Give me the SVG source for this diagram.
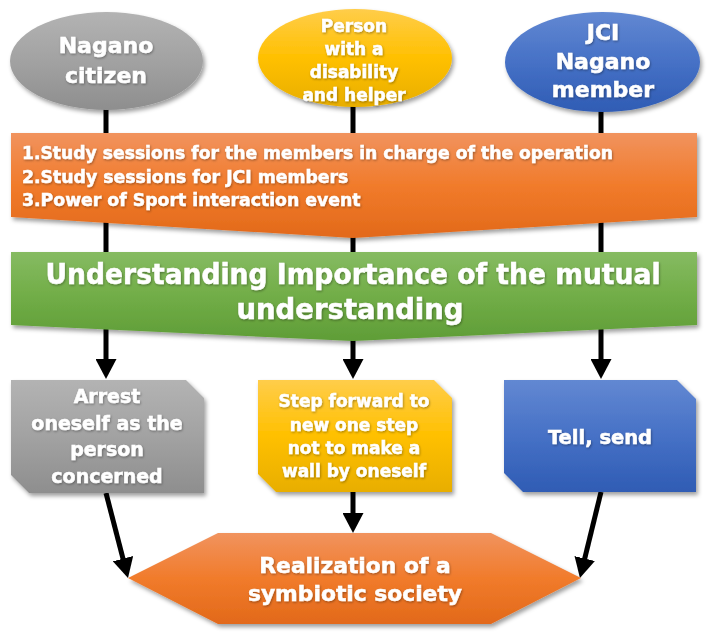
<svg xmlns="http://www.w3.org/2000/svg" width="707" height="644" viewBox="0 0 707 644">
<defs>
<linearGradient id="gGray" x1="0" y1="0" x2="0" y2="1"><stop offset="0" stop-color="#b3b3b3"/><stop offset="0.5" stop-color="#a2a2a2"/><stop offset="1" stop-color="#8e8e8e"/></linearGradient>
<linearGradient id="gYel" x1="0" y1="0" x2="0" y2="1"><stop offset="0" stop-color="#ffcd4a"/><stop offset="0.5" stop-color="#ffc000"/><stop offset="1" stop-color="#e8ae05"/></linearGradient>
<linearGradient id="gBlue" x1="0" y1="0" x2="0" y2="1"><stop offset="0" stop-color="#6288d2"/><stop offset="0.5" stop-color="#4671c6"/><stop offset="1" stop-color="#2f5cb4"/></linearGradient>
<linearGradient id="gOra" x1="0" y1="0" x2="0" y2="1"><stop offset="0" stop-color="#f1935e"/><stop offset="0.5" stop-color="#f17b2b"/><stop offset="1" stop-color="#e2691a"/></linearGradient>
<linearGradient id="gGrn" x1="0" y1="0" x2="0" y2="1"><stop offset="0" stop-color="#86bb62"/><stop offset="0.5" stop-color="#71ad47"/><stop offset="1" stop-color="#5f9d37"/></linearGradient>
<filter id="sh" x="-10%" y="-10%" width="120%" height="130%"><feDropShadow dx="2" dy="3" stdDeviation="2.2" flood-color="#000" flood-opacity="0.38"/></filter>
<filter id="tsh" x="-10%" y="-30%" width="120%" height="160%"><feDropShadow dx="0.8" dy="1.2" stdDeviation="0.8" flood-color="#000" flood-opacity="0.35"/></filter>
<marker id="ah" viewBox="0 0 20 21" refX="8" refY="10.5" markerWidth="20" markerHeight="21" markerUnits="userSpaceOnUse" orient="auto"><path d="M0,0 L20,10.5 L0,21 z" fill="#000"/></marker>
</defs>
<style>
.t{font-family:"DejaVu Sans",Verdana,sans-serif;font-weight:bold;fill:#fff;stroke:#fff;stroke-width:0.5;filter:url(#tsh)}
.c{text-anchor:middle}
.ar{stroke:#000;stroke-width:5;fill:none;marker-end:url(#ah)}
.s{filter:url(#sh)}
</style>
<g id="connectors">
<path class="ar" d="M106,108 L106,367"/>
<path class="ar" d="M353,104 L353,367"/>
<path class="ar" d="M601,110 L601,367"/>
<path class="ar" d="M106,493 L125,566.4"/>
<path class="ar" d="M353,492 L353,521"/>
<path class="ar" d="M601,492 L582.8,566.3"/>
</g>
<g id="nagano-citizen">
<ellipse class="s" cx="106.5" cy="61" rx="96.5" ry="49" fill="url(#gGray)"/>
<text class="t c" x="106" y="53" font-size="22">Nagano</text>
<text class="t c" x="106" y="82.5" font-size="22">citizen</text>
</g>
<g id="person-disability">
<ellipse class="s" cx="355" cy="58" rx="97" ry="49" fill="url(#gYel)"/>
<text class="t c" x="354" y="32" font-size="17">Person</text>
<text class="t c" x="354" y="55" font-size="17">with a</text>
<text class="t c" x="354" y="77.5" font-size="17">disability</text>
<text class="t c" x="354" y="100.5" font-size="17">and helper</text>
</g>
<g id="jci-member">
<ellipse class="s" cx="602.5" cy="62" rx="97.5" ry="50" fill="url(#gBlue)"/>
<text class="t c" x="603" y="40" font-size="22">JCI</text>
<text class="t c" x="603" y="68.5" font-size="22">Nagano</text>
<text class="t c" x="603" y="97" font-size="22">member</text>
</g>
<g id="study-sessions">
<polygon class="s" points="11,133 697,133 697,217 353,238 11,217" fill="url(#gOra)"/>
<text class="t" x="22" y="159" font-size="17.3" textLength="591" lengthAdjust="spacingAndGlyphs">1.Study sessions for the members in charge of the operation</text>
<text class="t" x="22" y="182.5" font-size="17.3">2.Study sessions for JCI members</text>
<text class="t" x="22" y="206" font-size="17.3">3.Power of Sport interaction event</text>
</g>
<g id="understanding">
<polygon class="s" points="11,252 697,252 697,325 353,341 11,325" fill="url(#gGrn)"/>
<text class="t c" x="353" y="284" font-size="27.5" textLength="615" lengthAdjust="spacingAndGlyphs">Understanding Importance of the mutual</text>
<text class="t c" x="350" y="318.5" font-size="27.5">understanding</text>
</g>
<g id="arrest-oneself">
<polygon class="s" points="11,380 186,380 204,398 204,493 29,493 11,475" fill="url(#gGray)"/>
<text class="t c" x="107" y="403" font-size="19">Arrest</text>
<text class="t c" x="107" y="430" font-size="19">oneself as the</text>
<text class="t c" x="107" y="456" font-size="19">person</text>
<text class="t c" x="107" y="483" font-size="19">concerned</text>
</g>
<g id="step-forward">
<polygon class="s" points="258,380 434,380 452,398 452,492 276,492 258,474" fill="url(#gYel)"/>
<text class="t c" x="354" y="407" font-size="17">Step forward to</text>
<text class="t c" x="354" y="430.5" font-size="17">new one step</text>
<text class="t c" x="354" y="453.5" font-size="17">not to make a</text>
<text class="t c" x="354" y="477" font-size="17">wall by oneself</text>
</g>
<g id="tell-send">
<polygon class="s" points="504,380 677,380 696,399 696,492 523,492 504,473" fill="url(#gBlue)"/>
<text class="t c" x="600" y="444" font-size="19.5">Tell, send</text>
</g>
<g id="realization">
<polygon class="s" points="218,533 491,533 581,578 491,624 218,624 128,578" fill="url(#gOra)"/>
<text class="t c" x="355" y="573" font-size="21.8">Realization of a</text>
<text class="t c" x="355" y="601" font-size="21.8">symbiotic society</text>
</g>
</svg>
